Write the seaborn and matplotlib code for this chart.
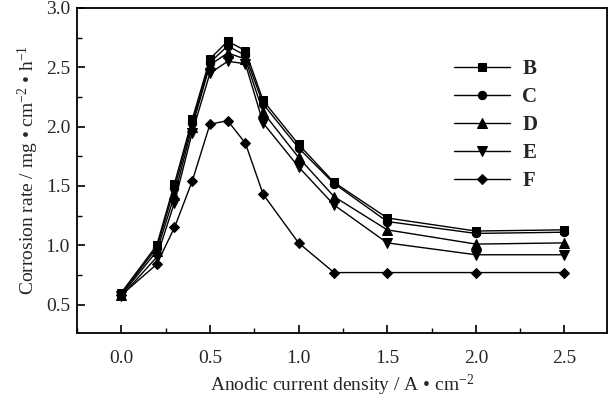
import numpy as np
import pandas as pd
import seaborn as sns
import matplotlib
matplotlib.use("Agg")
import matplotlib.pyplot as plt
from matplotlib.ticker import MultipleLocator

current = [0.0, 0.2, 0.3, 0.4, 0.5, 0.6, 0.7, 0.8, 1.0, 1.2, 1.5, 2.0, 2.5]
rate_B = [0.60, 1.00, 1.52, 2.06, 2.57, 2.72, 2.64, 2.22, 1.85, 1.53, 1.23, 1.12, 1.13]
rate_C = [0.59, 0.98, 1.48, 2.03, 2.54, 2.68, 2.60, 2.19, 1.82, 1.52, 1.20, 1.10, 1.11]
rate_D = [0.58, 0.95, 1.42, 2.00, 2.52, 2.62, 2.57, 2.12, 1.74, 1.41, 1.13, 1.01, 1.02]
rate_E = [0.57, 0.90, 1.36, 1.95, 2.45, 2.55, 2.53, 2.03, 1.66, 1.34, 1.02, 0.92, 0.92]
rate_F = [0.58, 0.84, 1.15, 1.54, 2.02, 2.05, 1.86, 1.43, 1.02, 0.77, 0.77, 0.77, 0.77]
series = ["B", "C", "D", "E", "F"]
markers = {"B": "s", "C": "o", "D": "^", "E": "v", "F": "D"}
msizes = {"B": 6, "C": 6, "D": 6.5, "E": 6.5, "F": 5}

rows = []
for name, vals in zip(series, [rate_B, rate_C, rate_D, rate_E, rate_F]):
    for x, y in zip(current, vals):
        rows.append({"current": x, "rate": y, "series": name})
df = pd.DataFrame(rows)

sns.set_style("ticks")
plt.rcParams["font.family"] = ["Liberation Serif", "DejaVu Serif"]
plt.rcParams["mathtext.fontset"] = "custom"
plt.rcParams["mathtext.rm"] = "Liberation Serif"
plt.rcParams["mathtext.it"] = "Liberation Serif:italic"
plt.rcParams["mathtext.bf"] = "Liberation Serif:bold"
plt.rcParams["xtick.direction"] = "in"
plt.rcParams["ytick.direction"] = "in"

fig = plt.figure(figsize=(6.11, 3.97), dpi=100)
ax = fig.add_axes([0.126, 0.161, 0.8675, 0.819])

for name in series:
    sub = df[df["series"] == name]
    sns.lineplot(data=sub, x="current", y="rate", ax=ax, color="black",
                 marker=markers[name], markersize=msizes[name], linewidth=1.0,
                 markeredgecolor="black", label=name)

ax.set_xlim(-0.25, 2.74)
ax.set_ylim(0.26, 3.0)
ax.set_xticks([0.0, 0.5, 1.0, 1.5, 2.0, 2.5])
ax.set_xticklabels(["0.0", "0.5", "1.0", "1.5", "2.0", "2.5"])
ax.set_yticks([0.5, 1.0, 1.5, 2.0, 2.5, 3.0])
ax.set_yticklabels(["0.5", "1.0", "1.5", "2.0", "2.5", "3.0"])
ax.xaxis.set_minor_locator(MultipleLocator(0.25))
ax.yaxis.set_minor_locator(MultipleLocator(0.25))
ax.tick_params(which="both", direction="in", labelsize=14, color="black",
               top=False, right=False)
ax.tick_params(which="major", length=6, width=1.2)
ax.tick_params(which="minor", length=3.5, width=1.0)
ax.tick_params(axis="x", which="both", pad=12)
ax.tick_params(axis="y", which="both", pad=5)
for s in ax.spines.values():
    s.set_linewidth(1.3)
    s.set_color("black")

ax.set_xlabel("Anodic current density / A \u2022 cm$^{-2}$", fontsize=14, labelpad=4)
ax.set_ylabel("Corrosion rate / mg \u2022 cm$^{-2}$ \u2022 h$^{-1}$", fontsize=14, labelpad=3)

leg = ax.legend(loc="upper left", bbox_to_anchor=(0.675, 0.9), frameon=False,
                handlelength=2.7, handletextpad=0.6, labelspacing=0.38,
                prop={"family": "Liberation Serif", "weight": "bold", "size": 15})

fig.savefig("out.png", dpi=100)
